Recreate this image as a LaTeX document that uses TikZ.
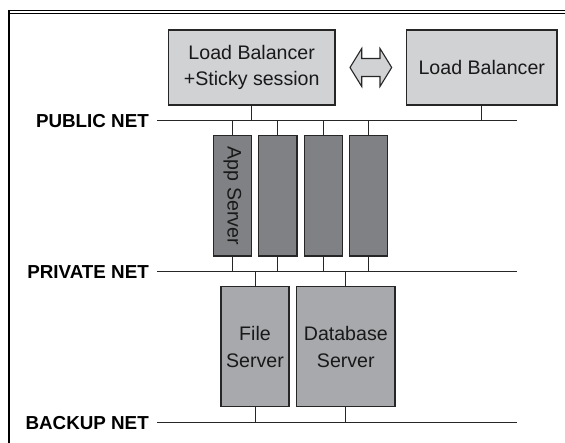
\documentclass[tikz,border=0pt]{standalone}
\usepackage{fontspec}
\setmainfont{Liberation Sans}
\begin{document}
\begin{tikzpicture}[x=1pt,y=-1pt,
  edgecol/.style={draw=black!85},
  boxbase/.style={edgecol, line width=1.2pt, inner sep=0pt, align=center,
    font=\fontsize{19.6}{26.7}\selectfont, text=black!90},
  lbbox/.style={boxbase, fill=lightgray1, minimum height=75pt},
  appbox/.style={boxbase, fill=darkgray1, minimum width=38.4pt, minimum height=120.3pt},
  storebox/.style={boxbase, fill=midgray1, minimum height=120pt},
  netlabel/.style={font=\fontsize{18.8}{20}\bfseries\selectfont, inner sep=0pt, anchor=east},
  netline/.style={draw=black!85, line width=0.9pt},
  tap/.style={draw=black!85, line width=0.9pt},
]
\definecolor{lightgray1}{HTML}{D1D2D4}
\definecolor{darkgray1}{HTML}{808184}
\definecolor{midgray1}{HTML}{A7A9AC}

\useasboundingbox (0,0) rectangle (565,443);

% page frame: double rule on top, heavy rule on the left
\draw[line width=0.9pt] (8,10.5) -- (565,10.5);
\draw[line width=0.9pt] (8,13.8) -- (565,13.8);
\draw[line width=2pt] (9,10) -- (9,443);

% load balancers
\node[lbbox, minimum width=166.7pt] (lb1) at (251.7,67.5) {Load Balancer\\+Sticky session};
\node[lbbox, minimum width=150.3pt] (lb2) at (481.8,67.5) {Load Balancer};

% failover double arrow between the balancers
\draw[edgecol, line width=1.1pt, fill=lightgray1]
  (350,67.5) -- (361.7,48.5) -- (361.7,58.5) -- (380,58.5) -- (380,48.5)
  -- (391.7,67.5) -- (380,86.5) -- (380,76.5) -- (361.7,76.5) -- (361.7,86.5) -- cycle;

% network labels and buses
\node[netlabel] (pubT) at (149,120.8) {PUBLIC NET};
\node[netlabel] (privT) at (149,271.6) {PRIVATE NET};
\node[netlabel] (bakT) at (149,422.8) {BACKUP NET};
\coordinate (pubR) at (517,120.5);
\coordinate (privR) at (517,271.5);
\coordinate (bakR) at (517,422.7);
\draw[netline] ([xshift=8pt]pubT.east |- pubR) -- (pubR);
\draw[netline] ([xshift=8pt]privT.east |- privR) -- (privR);
\draw[netline] ([xshift=8pt]bakT.east |- bakR) -- (bakR);

% application servers
\node[appbox] (a1) at (232.5,195.8) {\rotatebox{-90}{App Server}};
\node[appbox] (a2) at (277.8,195.8) {};
\node[appbox] (a3) at (323.3,195.8) {};
\node[appbox] (a4) at (368.5,195.8) {};

% storage servers
\node[storebox, minimum width=68pt] (fs) at (255,346.7) {File\\Server};
\node[storebox, minimum width=98.3pt] (db) at (345.8,346.7) {Database\\Server};

% taps onto the buses
\draw[tap] (lb1.south) -- (lb1.south |- pubR);
\draw[tap] (lb2.south) -- (lb2.south |- pubR);
\foreach \n in {a1,a2,a3,a4} {
  \draw[tap] (\n.north) -- (\n.north |- pubR);
  \draw[tap] (\n.south) -- (\n.south |- privR);
}
\foreach \n in {fs,db} {
  \draw[tap] (\n.north) -- (\n.north |- privR);
  \draw[tap] (\n.south) -- (\n.south |- bakR);
}
\end{tikzpicture}
\end{document}
